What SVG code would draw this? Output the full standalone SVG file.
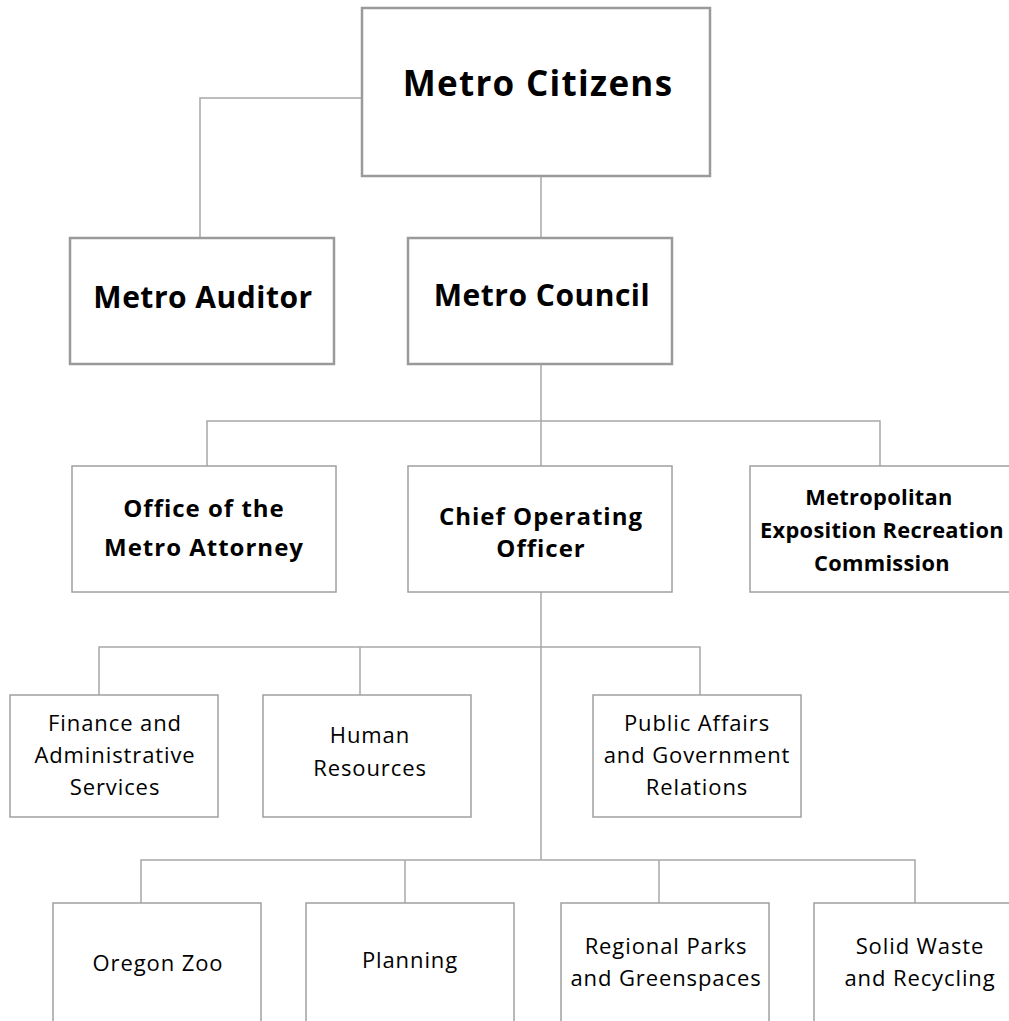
<svg xmlns="http://www.w3.org/2000/svg" width="1009" height="1021" viewBox="0 0 1009 1021">
<style>
.box{fill:#fff;stroke:#a0a0a0;stroke-width:1.5}
.big{fill:#fff;stroke:#9a9a9a;stroke-width:2.5}
.ln{fill:none;stroke:#a8a8a8;stroke-width:1.5}
text{font-family:"Open Sans","Liberation Sans",sans-serif;fill:#000;text-anchor:middle}
.t1{font-size:35px;font-weight:bold;letter-spacing:1.3px}
.t2{font-size:30px;font-weight:bold;letter-spacing:0.5px}
.t3{font-size:24px;font-weight:bold;letter-spacing:1px}
.t3s{font-size:21.8px;font-weight:bold;letter-spacing:0.3px}
.t4{font-size:22px;letter-spacing:0.9px}
</style>
<rect width="1009" height="1021" fill="#fff"/>
<g id="connectors">
<polyline class="ln" points="362,98 200,98 200,238"/>
<line class="ln" x1="541" y1="176" x2="541" y2="238"/>
<line class="ln" x1="541" y1="364" x2="541" y2="466"/>
<polyline class="ln" points="207,466 207,421 880,421 880,466"/>
<line class="ln" x1="541" y1="592" x2="541" y2="860"/>
<polyline class="ln" points="99,695 99,647 700,647 700,695"/>
<line class="ln" x1="360" y1="647" x2="360" y2="695"/>
<polyline class="ln" points="141,903 141,860 915,860 915,903"/>
<line class="ln" x1="405" y1="860" x2="405" y2="903"/>
<line class="ln" x1="659" y1="860" x2="659" y2="903"/>
</g>
<g id="citizens"><rect class="big" x="362" y="8" width="348" height="168"/><text class="t1" x="538" y="96">Metro Citizens</text></g>
<g id="auditor"><rect class="big" x="70" y="238" width="264" height="126"/><text class="t2" x="203" y="308">Metro Auditor</text></g>
<g id="council"><rect class="big" x="408" y="238" width="264" height="126"/><text class="t2" x="542" y="306">Metro Council</text></g>
<g id="attorney"><rect class="box" x="72" y="466" width="264" height="126"/><text class="t3" x="204" y="517">Office of the</text><text class="t3" x="204" y="556">Metro Attorney</text></g>
<g id="coo"><rect class="box" x="408" y="466" width="264" height="126"/><text class="t3" x="541" y="525">Chief Operating</text><text class="t3" x="541" y="557">Officer</text></g>
<g id="merc"><rect class="box" x="750" y="466" width="264" height="126"/><text class="t3s" x="879" y="505">Metropolitan</text><text class="t3s" x="882" y="538">Exposition Recreation</text><text class="t3s" x="882" y="571">Commission</text></g>
<g id="finance"><rect class="box" x="10" y="695" width="208" height="122"/><text class="t4" x="115" y="731">Finance and</text><text class="t4" x="115" y="763">Administrative</text><text class="t4" x="115" y="795">Services</text></g>
<g id="hr"><rect class="box" x="263" y="695" width="208" height="122"/><text class="t4" x="370" y="743">Human</text><text class="t4" x="370" y="776">Resources</text></g>
<g id="public"><rect class="box" x="593" y="695" width="208" height="122"/><text class="t4" x="697" y="731">Public Affairs</text><text class="t4" x="697" y="763">and Government</text><text class="t4" x="697" y="795">Relations</text></g>
<g id="zoo"><rect class="box" x="53" y="903" width="208" height="130"/><text class="t4" x="158" y="971">Oregon Zoo</text></g>
<g id="planning"><rect class="box" x="306" y="903" width="208" height="130"/><text class="t4" x="410" y="968">Planning</text></g>
<g id="parks"><rect class="box" x="561" y="903" width="208" height="130"/><text class="t4" x="666" y="954">Regional Parks</text><text class="t4" x="666" y="986">and Greenspaces</text></g>
<g id="solid"><rect class="box" x="814" y="903" width="208" height="130"/><text class="t4" x="920" y="954">Solid Waste</text><text class="t4" x="920" y="986">and Recycling</text></g>
</svg>
